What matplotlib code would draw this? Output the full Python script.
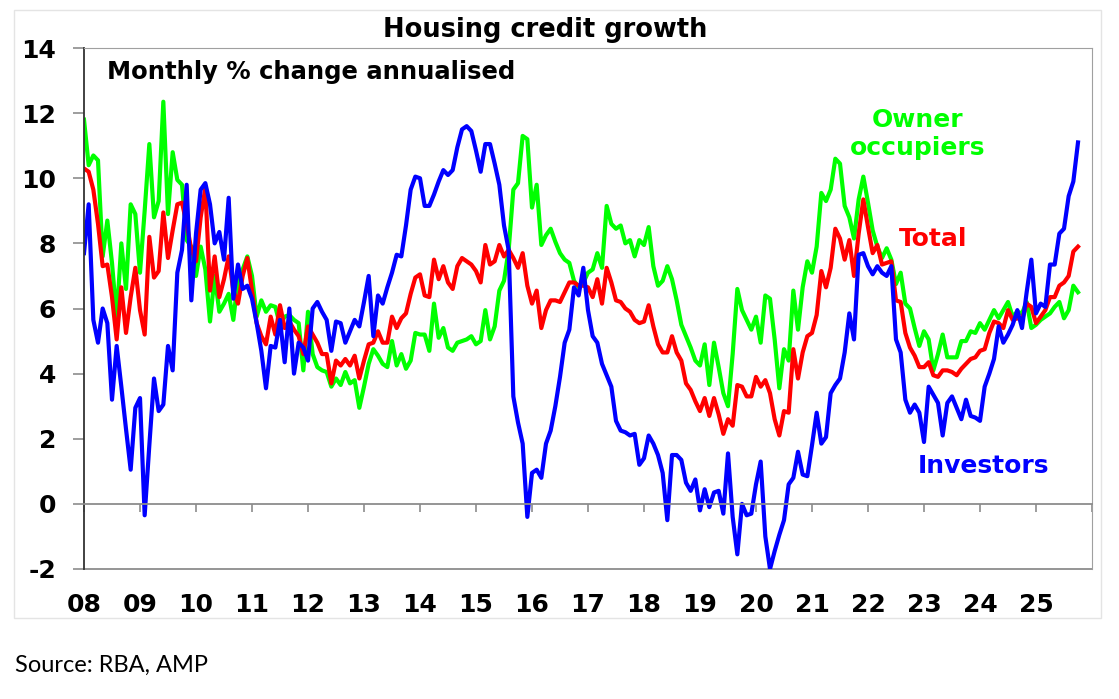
import numpy as np
import matplotlib.pyplot as plt
from matplotlib.patches import Rectangle

# monthly % change annualised, Jan 2008 .. Oct 2025
owner = [
    11.8, 10.4, 10.7, 10.55, 7.6, 8.7, 7.4, 5.7, 8.0, 6.6, 9.2, 8.9,      # 08
    7.1, 9.0, 11.05, 8.8, 9.3, 12.35, 8.9, 10.8, 9.95, 9.8, 8.1, 7.9,     # 09
    7.0, 7.9, 7.2, 5.6, 7.0, 5.9, 6.15, 6.45, 5.65, 6.9, 7.2, 7.6,        # 10
    7.0, 5.75, 6.25, 5.9, 6.1, 6.05, 5.5, 5.75, 5.8, 5.65, 5.55, 4.1,     # 11
    5.9, 4.6, 4.2, 4.1, 4.05, 3.6, 3.85, 3.65, 4.05, 3.7, 3.8, 2.95,      # 12
    3.6, 4.3, 4.75, 4.55, 4.3, 4.2, 5.0, 4.25, 4.6, 4.15, 4.4, 5.25,      # 13
    5.2, 5.2, 4.7, 6.15, 5.1, 5.4, 4.8, 4.7, 4.95, 5.0, 5.05, 5.15,       # 14
    4.9, 5.0, 5.95, 5.05, 5.45, 6.55, 6.85, 7.8, 9.65, 9.85, 11.3, 11.2,  # 15
    9.1, 9.8, 7.95, 8.25, 8.45, 8.05, 7.7, 7.5, 7.4, 6.85, 6.65, 6.8,     # 16
    7.1, 7.2, 7.7, 7.25, 9.15, 8.6, 8.45, 8.55, 8.0, 8.1, 7.6, 8.1,       # 17
    7.95, 8.5, 7.3, 6.7, 6.85, 7.3, 6.9, 6.25, 5.5, 5.15, 4.8, 4.4,       # 18
    4.25, 4.9, 3.65, 4.95, 4.2, 3.4, 3.0, 4.6, 6.6, 5.95, 5.65, 5.35,     # 19
    5.75, 4.95, 6.4, 6.3, 5.05, 3.55, 4.75, 4.4, 6.55, 5.35, 6.65, 7.45,  # 20
    7.1, 7.9, 9.55, 9.3, 9.65, 10.6, 10.45, 9.15, 8.8, 8.15, 9.35, 10.05, # 21
    9.25, 8.4, 7.9, 7.55, 7.85, 7.5, 6.75, 7.1, 6.15, 6.0, 5.4, 4.85,     # 22
    5.3, 5.05, 4.1, 4.6, 5.2, 4.5, 4.5, 4.5, 5.0, 5.0, 5.3, 5.25,         # 23
    5.55, 5.35, 5.65, 5.95, 5.7, 5.95, 6.2, 5.75, 5.9, 5.85, 6.2, 5.4,    # 24
    5.5, 5.65, 5.75, 5.85, 6.05, 6.2, 5.7, 5.95, 6.7, 6.5,                # 25
]

total = [
    10.3, 10.2, 9.65, 8.6, 7.3, 7.35, 6.35, 5.05, 6.65, 5.25, 6.35, 7.25,  # 08
    5.95, 5.2, 8.2, 6.95, 7.15, 8.95, 7.55, 8.4, 9.2, 9.25, 8.6, 7.8,      # 09
    7.45, 8.8, 9.7, 6.55, 7.6, 6.35, 6.9, 7.6, 6.55, 6.15, 7.0, 7.55,      # 10
    6.55, 5.55, 5.15, 4.9, 5.75, 5.2, 6.1, 5.4, 5.6, 5.35, 5.15, 4.6,      # 11
    5.45, 5.2, 4.95, 4.6, 4.6, 3.7, 4.4, 4.25, 4.45, 4.25, 4.55, 3.85,     # 12
    4.4, 4.9, 4.95, 5.3, 4.95, 4.95, 5.75, 5.4, 5.7, 5.85, 6.45, 6.95,     # 13
    7.05, 6.4, 6.35, 7.5, 6.9, 7.3, 6.8, 6.6, 7.3, 7.55, 7.45, 7.35,       # 14
    7.15, 6.8, 7.95, 7.35, 7.45, 7.95, 7.6, 7.8, 7.55, 7.25, 7.7, 6.7,     # 15
    6.15, 6.55, 5.4, 5.95, 6.25, 6.25, 6.2, 6.5, 6.8, 6.8, 6.7, 6.7,       # 16
    6.65, 6.35, 6.9, 6.15, 7.25, 6.8, 6.25, 6.2, 6.0, 5.9, 5.65, 5.55,     # 17
    5.6, 6.1, 5.45, 4.9, 4.65, 4.65, 5.15, 4.65, 4.4, 3.7, 3.5, 3.15,      # 18
    2.85, 3.25, 2.7, 3.25, 2.75, 2.15, 2.6, 2.4, 3.65, 3.6, 3.3, 3.3,      # 19
    3.9, 3.6, 3.8, 3.4, 2.6, 2.1, 2.85, 2.8, 4.75, 3.85, 4.65, 5.15,       # 20
    5.25, 5.8, 7.15, 6.65, 7.25, 8.45, 8.15, 7.5, 8.1, 7.0, 8.3, 9.35,     # 21
    8.5, 7.7, 7.95, 7.35, 7.4, 7.45, 6.25, 6.2, 5.25, 4.8, 4.55, 4.2,      # 22
    4.2, 4.35, 3.95, 3.9, 4.1, 4.1, 4.05, 3.95, 4.15, 4.3, 4.45, 4.5,      # 23
    4.7, 4.75, 5.25, 5.6, 5.55, 5.4, 5.95, 5.65, 5.7, 5.65, 6.15, 6.05,    # 24
    5.55, 5.75, 5.95, 6.35, 6.35, 6.7, 6.8, 7.0, 7.75, 7.9,                # 25
]

investors = [
    7.7, 9.2, 5.65, 4.95, 6.0, 5.55, 3.2, 4.85, 3.6, 2.3, 1.05, 2.95,      # 08
    3.25, -0.35, 1.8, 3.85, 2.85, 3.05, 4.85, 4.1, 7.1, 7.8, 9.8, 6.25,    # 09
    8.3, 9.65, 9.85, 9.2, 8.0, 8.35, 7.5, 9.4, 6.3, 7.35, 6.6, 6.7,        # 10
    6.3, 5.55, 4.7, 3.55, 4.85, 4.8, 5.65, 4.35, 6.0, 4.0, 4.95, 4.8,      # 11
    4.4, 6.0, 6.2, 5.9, 5.65, 4.7, 5.6, 5.55, 4.95, 5.3, 5.65, 5.45,       # 12
    6.2, 7.0, 5.15, 6.4, 6.15, 6.65, 7.1, 7.65, 7.6, 8.55, 9.65, 10.05,    # 13
    10.0, 9.15, 9.15, 9.5, 9.9, 10.25, 10.1, 10.25, 10.95, 11.5, 11.6, 11.45,  # 14
    10.85, 10.2, 11.05, 11.05, 10.45, 9.8, 8.55, 7.8, 3.3, 2.5, 1.85, -0.4,    # 15
    0.95, 1.05, 0.8, 1.85, 2.25, 3.0, 3.9, 4.95, 5.35, 6.65, 6.4, 7.25,    # 16
    5.95, 5.15, 4.95, 4.3, 3.95, 3.6, 2.55, 2.25, 2.2, 2.1, 2.15, 1.2,     # 17
    1.4, 2.1, 1.85, 1.5, 0.95, -0.5, 1.5, 1.5, 1.35, 0.65, 0.4, 0.75,      # 18
    -0.2, 0.45, -0.1, 0.35, 0.4, -0.3, 1.55, -0.4, -1.55, 0.0, -0.35, -0.3,    # 19
    0.6, 1.3, -1.0, -2.0, -1.45, -0.95, -0.5, 0.6, 0.8, 1.6, 0.9, 0.85,    # 20
    1.8, 2.8, 1.85, 2.05, 3.4, 3.65, 3.85, 4.65, 5.85, 5.05, 7.65, 7.7,    # 21
    7.3, 7.05, 7.3, 7.1, 7.0, 7.3, 5.05, 4.65, 3.2, 2.8, 3.05, 2.8,        # 22
    1.9, 3.6, 3.35, 3.1, 2.1, 3.1, 3.3, 2.95, 2.6, 3.2, 2.7, 2.65,         # 23
    2.55, 3.6, 4.0, 4.45, 5.45, 4.95, 5.2, 5.5, 5.95, 5.4, 6.5, 7.5,       # 24
    5.85, 6.15, 6.05, 7.35, 7.35, 8.3, 8.45, 9.45, 9.9, 11.1,              # 25
]

years = list(range(2008, 2027))
year_labels = ['%02d' % (y % 100) for y in range(2008, 2026)] + ['']

W, H = 1119, 699
plt.rcParams['font.weight'] = 'bold'
plt.rcParams['axes.unicode_minus'] = False
fig = plt.figure(figsize=(W / 100, H / 100), dpi=100)
ax = fig.add_axes([84 / W, 1 - 569 / H, 1008 / W, 521 / H])

months = 2008 + np.arange(len(owner)) / 12
ax.plot(months, owner, color='#00ff00', lw=3)
ax.plot(months, total, color='#ff0000', lw=3)
ax.plot(months, investors, color='#0000ff', lw=3)

ax.set_xlim(2008, 2026)
ax.set_ylim(-2, 14)
ax.set_yticks(range(-2, 15, 2))
ax.set_xticks(years)
ax.set_xticklabels(year_labels)

grey = '#8c8c8c'
ax.spines['bottom'].set_position(('data', 0))
ax.spines['bottom'].set_color(grey)
ax.spines['bottom'].set_linewidth(1.3)
ax.spines['top'].set_color('#a0a0a0')
ax.spines['right'].set_color('#a0a0a0')
ax.spines['left'].set_color('#333333')
ax.spines['left'].set_linewidth(1.3)
ax.axhline(-2, color=grey, lw=1.3, clip_on=False, zorder=0)

ax.tick_params(axis='x', direction='out', length=6, width=1.2, color=grey,
               pad=58, labelsize=18)
ax.tick_params(axis='y', direction='out', length=8, width=1.2, color=grey,
               pad=12, labelsize=18)

fig.text(545 / W, 1 - 30 / H, 'Housing credit growth', ha='center', va='center',
         fontsize=18.5, fontweight='bold')
ax.text(107 / W, 1 - 72 / H, 'Monthly % change annualised', transform=fig.transFigure,
        ha='left', va='center', fontsize=17.5, fontweight='bold')
fig.text(918 / W, 1 - 120 / H, 'Owner', color='#00ff00', ha='center', va='center',
         fontsize=18, fontweight='bold')
fig.text(918 / W, 1 - 148 / H, 'occupiers', color='#00ff00', ha='center', va='center',
         fontsize=18, fontweight='bold')
fig.text(933 / W, 1 - 239 / H, 'Total', color='#ff0000', ha='center', va='center',
         fontsize=18, fontweight='bold')
fig.text(984 / W, 1 - 466 / H, 'Investors', color='#0000ff', ha='center', va='center',
         fontsize=18, fontweight='bold')

fig.text(15 / W, 1 - 665 / H, 'Source: RBA, AMP', family=['Lato', 'DejaVu Sans'],
         fontweight='normal', ha='left', va='center', fontsize=17)

fig.patches.append(Rectangle((14 / W, 1 - 618 / H), 1087 / W, 608 / H,
                             transform=fig.transFigure, fill=False,
                             edgecolor='#e4e4e4', lw=1))

fig.savefig('out.png', dpi=100)
